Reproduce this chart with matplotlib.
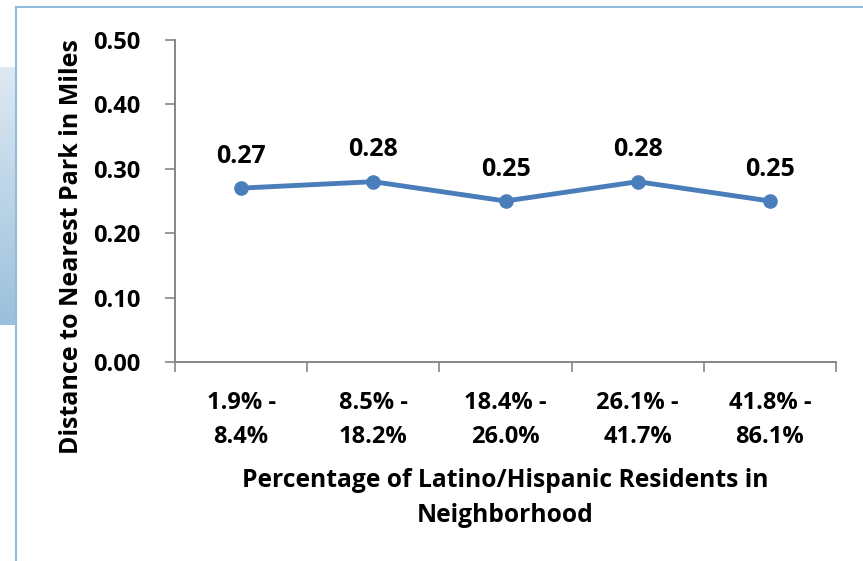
import numpy as np
import matplotlib.pyplot as plt
from matplotlib.lines import Line2D
from matplotlib.colors import LinearSegmentedColormap

# Distance to the nearest park by neighbourhood Latino/Hispanic share
categories = ["1.9% -\n8.4%", "8.5% -\n18.2%", "18.4% -\n26.0%", "26.1% -\n41.7%", "41.8% -\n86.1%"]
distance_miles = [0.27, 0.28, 0.25, 0.28, 0.25]
y_ticks = [0.0, 0.1, 0.2, 0.3, 0.4, 0.5]

LINE_BLUE = "#4a7ebb"
AXIS_GRAY = "#868686"
FRAME_BLUE = "#93bcdc"
FS = 17
TITLE_FS = 17.7

plt.rcParams["font.family"] = ["Open Sans", "DejaVu Sans"]
plt.rcParams["font.weight"] = "bold"

fig = plt.figure(figsize=(8.63, 5.61), dpi=100)
W, H = 863, 561

# slide frame: light blue rule along top and left, gradient tab on the far left
fig.add_artist(Line2D([16 / W, 1], [1 - 7 / H, 1 - 7 / H], color=FRAME_BLUE, lw=1.5))
fig.add_artist(Line2D([16 / W, 16 / W], [0, 1 - 7 / H], color=FRAME_BLUE, lw=1.5))
tab = fig.add_axes([0, 1 - 325 / H, 15 / W, (325 - 67) / H])
grad = np.linspace(0, 1, 100).reshape(-1, 1)
cmap = LinearSegmentedColormap.from_list("tab", ["#dde9f3", "#9cc0db"])
tab.imshow(grad, aspect="auto", cmap=cmap, extent=[0, 1, 1, 0])
tab.axis("off")

ax = fig.add_axes([175 / W, 1 - 362 / H, (836 - 175) / W, (362 - 40) / H])
x = np.arange(len(categories))
ax.plot(x, distance_miles, color=LINE_BLUE, lw=3.5, marker="o", markersize=9.5,
        solid_capstyle="round", zorder=3)

for xi, v in zip(x, distance_miles):
    ax.annotate(f"{v:.2f}", (xi, v), xytext=(0, 14), textcoords="offset points",
                ha="center", va="bottom", fontsize=18, fontweight="bold")

ax.set_xlim(-0.5, len(categories) - 0.5)
ax.set_ylim(0, 0.5)
ax.set_yticks(y_ticks)
ax.set_yticklabels([f"{t:.2f}" for t in y_ticks])
ax.set_xticks(np.arange(len(categories) + 1) - 0.5)
ax.set_xticklabels([])
ax.set_xticks(x, minor=True)
ax.set_xticklabels(categories, minor=True)
ax.tick_params(axis="x", which="major", length=7, width=1.2, color=AXIS_GRAY, direction="out")
ax.tick_params(axis="x", which="minor", length=0, pad=21, labelsize=FS)
ax.tick_params(axis="y", length=7, width=1.2, color=AXIS_GRAY, direction="out", pad=18, labelsize=FS)
for lab in ax.get_xticklabels(minor=True) + ax.get_yticklabels():
    lab.set_fontweight("bold")
    lab.set_linespacing(1.55)

for side in ["top", "right"]:
    ax.spines[side].set_visible(False)
for side in ["left", "bottom"]:
    ax.spines[side].set_color(AXIS_GRAY)
    ax.spines[side].set_linewidth(1.4)

fig.text(505 / W, 1 - 498 / H, "Percentage of Latino/Hispanic Residents in\nNeighborhood",
         ha="center", va="center", fontsize=TITLE_FS, fontweight="bold", linespacing=1.55)
fig.text(72 / W, 1 - 247 / H, "Distance to Nearest Park in Miles", rotation=90,
         ha="center", va="center", fontsize=18, fontweight="bold")

fig.savefig("out.png", dpi=100)
